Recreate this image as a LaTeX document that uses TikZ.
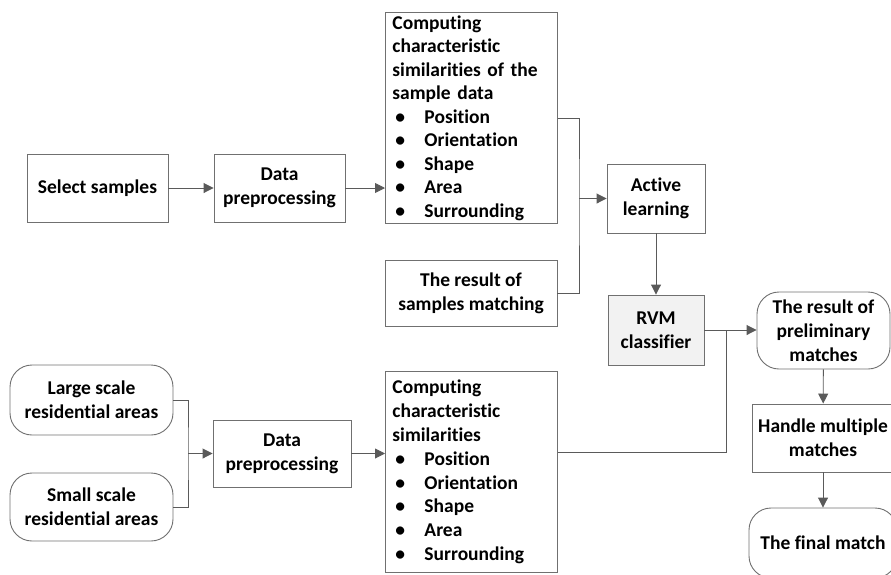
\documentclass[tikz,border=0pt]{standalone}
\usepackage{fontspec}
\setmainfont[Ligatures=NoCommon]{Carlito}
\usepackage{tikz}
\usetikzlibrary{arrows.meta}
\usetikzlibrary{positioning}
\definecolor{boxline}{HTML}{707070}
\definecolor{wireline}{HTML}{5A5A5A}
\definecolor{rvmfill}{HTML}{F2F2F2}
\tikzset{box/.style = {draw=boxline, line width=0.9pt, fill=white, align=center,
                       font=\fontsize{19.5}{23.8}\selectfont\bfseries, inner sep=0pt},
         roundbox/.style = {box, rounded corners=22pt},
         listbox/.style = {box, align=left, anchor=north west, text width=158pt,
                           minimum width=172pt, inner xsep=7pt, inner ysep=2pt},
         wire/.style = {draw=wireline, line width=0.9pt},
         arr/.style = {wire, -{Triangle[length=10pt, width=10pt]}}}
\newcommand{\itm}[1]{\makebox[32pt][l]{\hspace{3pt}\textbullet}#1}

\begin{document}
\begin{tikzpicture}[x=1pt, y=-1pt]
    \useasboundingbox (0, 0) rectangle (891, 574);

    % upper row
    \node [box, minimum width=141pt, minimum height=68pt] (sel) at (97.5, 188) {Select samples};
    \node [box, minimum width=131pt, minimum height=68pt] (pre1) at (279.5, 188) {Data\\preprocessing};
    \node [listbox, minimum height=211pt, font=\fontsize{19.5}{23.5}\selectfont\bfseries] (comp1) at (385, 12)
      {Computing\\characteristic\\similarities of the\\sample data\\
       \itm{Position}\\\itm{Orientation}\\\itm{Shape}\\\itm{Area}\\\itm{Surrounding}};
    \node [box, minimum width=172pt, minimum height=66pt] (res) at (471, 293) {The result of\\samples matching};
    \node [box, minimum width=98pt, minimum height=69pt] (act) at (656, 198.5) {Active\\learning};
    \node [box, fill=rvmfill, minimum width=96pt, minimum height=70pt] (rvm) at (656, 330) {RVM\\classifier};

    % right column
    \node [roundbox, minimum width=133pt, minimum height=77pt] (prelim) at (823.5, 330.5) {The result of\\preliminary\\matches};
    \node [box, minimum width=142pt, minimum height=68pt] (multi) at (823, 438) {Handle multiple\\matches};
    \node [roundbox, minimum width=148pt, minimum height=70pt] (final) at (823, 543) {The final match};

    % lower row
    \node [roundbox, minimum width=163pt, minimum height=70pt] (large) at (91.5, 400) {Large scale\\residential areas};
    \node [roundbox, minimum width=163pt, minimum height=68pt] (small) at (91.5, 507) {Small scale\\residential areas};
    \node [box, minimum width=138pt, minimum height=67pt] (pre2) at (282, 453.5) {Data\\preprocessing};
    \node [listbox, minimum height=201pt] (comp2) at (385, 371)
      {Computing\\characteristic\\similarities\\
       \itm{Position}\\\itm{Orientation}\\\itm{Shape}\\\itm{Area}\\\itm{Surrounding}};

    \coordinate (j1) at (579, 198.5);
    \coordinate (j2) at (726, 331);
    \coordinate (j3) at (188, 453.5);

    \draw [arr] (sel) -- (pre1);
    \draw [arr] (pre1.east) -- (pre1.east -| comp1.west);
    \draw [wire] (comp1.east |- 0, 118) -| (j1) |- (res.east);
    \draw [arr] (j1) -- (act.west);
    \draw [arr] (act) -- (rvm);
    \draw [arr] (rvm.east) -- (rvm.east -| prelim.west);
    \draw [wire] (comp2.east |- 0, 452) -| (j2);
    \draw [arr] (prelim) -- (multi);
    \draw [arr] (multi) -- (final);
    \draw [wire] (large.east) -| (j3) |- (small.east);
    \draw [arr] (j3) -- (pre2.west);
    \draw [arr] (pre2.east) -- (pre2.east -| comp2.west);
  \end{tikzpicture}
\end{document}
